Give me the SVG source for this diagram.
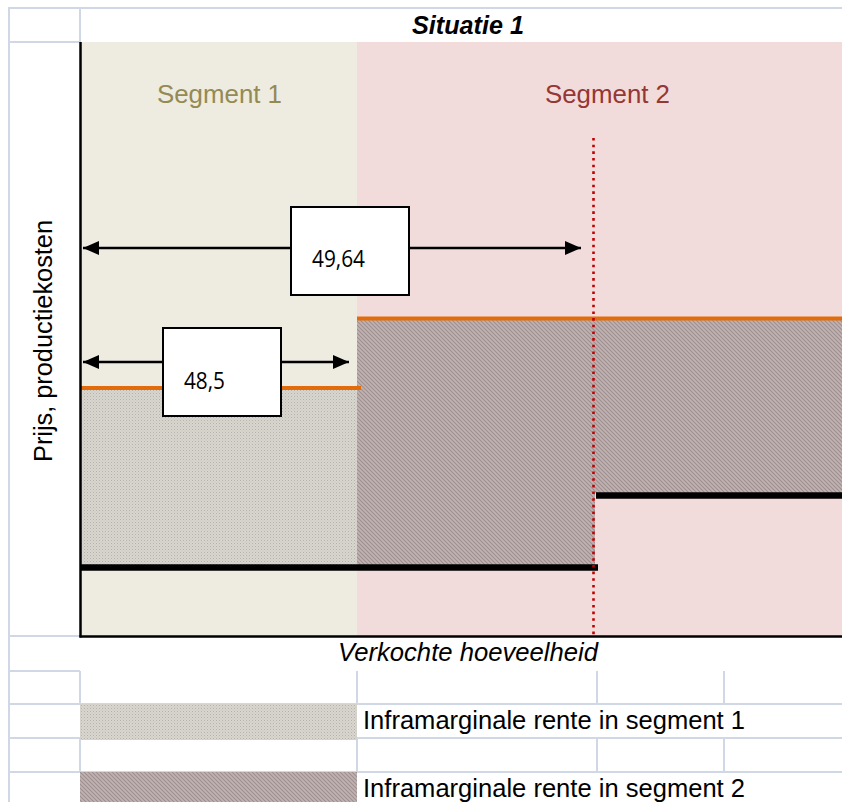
<svg xmlns="http://www.w3.org/2000/svg" width="842" height="802" viewBox="0 0 842 802">
  <style>
    .grid { stroke: #D0D7E5; stroke-width: 2; fill: none; }
    .lbl { font-family: "Liberation Sans", Arial, sans-serif; fill: #000; }
    .num { font-family: "Open Sans", "Noto Sans", sans-serif; font-size: 23px; fill: #000; }
    .box { fill: #fff; stroke: #000; stroke-width: 2; }
    .arrow { stroke: #000; stroke-width: 2.5; fill: none; marker-start: url(#ah); marker-end: url(#ah); }
    .price { stroke: #E36C0A; stroke-width: 4; }
    .cost { stroke: #000; stroke-width: 6.5; }
  </style>
  <defs>
    <pattern id="dots" width="3" height="3" patternUnits="userSpaceOnUse">
      <rect width="3" height="3" fill="#D8D6CE"/>
      <rect x="0" y="0" width="1" height="1" fill="#B4B1A9"/>
      <rect x="1.5" y="1.5" width="1" height="1" fill="#C2BFB8"/>
    </pattern>
    <pattern id="hatch" width="4" height="4" patternUnits="userSpaceOnUse">
      <rect width="4" height="4" fill="#C1B3B3"/>
      <path d="M-1,-1 L5,5 M-1,3 L1,5 M3,-1 L5,1" stroke="#9E8E8E" stroke-width="1.1"/>
    </pattern>
    <marker id="ah" viewBox="0 0 16 14" refX="16" refY="7" markerWidth="16" markerHeight="14" markerUnits="userSpaceOnUse" orient="auto-start-reverse">
      <path d="M0,0 L16,7 L0,14 z" fill="#000"/>
    </marker>
  </defs>

  <rect width="842" height="802" fill="#fff"/>

  <!-- spreadsheet grid -->
  <g id="grid" class="grid">
    <line x1="8" y1="8" x2="842" y2="8"/>
    <line x1="9" y1="7" x2="9" y2="802"/>
    <line x1="80" y1="8" x2="80" y2="42"/>
    <line x1="8" y1="42" x2="80" y2="42"/>
    <line x1="8" y1="636" x2="80" y2="636"/>
    <line x1="8" y1="671" x2="80" y2="671"/>
    <line x1="8" y1="704" x2="842" y2="704"/>
    <line x1="8" y1="738" x2="842" y2="738"/>
    <line x1="8" y1="772" x2="842" y2="772"/>
    <line x1="80" y1="671" x2="80" y2="704"/>
    <line x1="357" y1="671" x2="357" y2="704"/>
    <line x1="597" y1="671" x2="597" y2="704"/>
    <line x1="724" y1="671" x2="724" y2="704"/>
    <line x1="80" y1="738" x2="80" y2="772"/>
    <line x1="357" y1="738" x2="357" y2="772"/>
    <line x1="597" y1="738" x2="597" y2="772"/>
    <line x1="724" y1="738" x2="724" y2="772"/>
  </g>

  <g id="title">
    <text class="lbl" x="468" y="34" font-size="25" font-weight="bold" font-style="italic" text-anchor="middle" textLength="112" lengthAdjust="spacingAndGlyphs">Situatie 1</text>
  </g>

  <!-- chart -->
  <rect x="80" y="42" width="762" height="629" fill="#fff"/>
  <g id="segment1">
    <rect x="81" y="42" width="276" height="594" fill="#EEEBE0"/>
    <text class="lbl" x="219.5" y="103" font-size="26" style="fill:#948A54" text-anchor="middle" textLength="125" lengthAdjust="spacingAndGlyphs">Segment 1</text>
    <rect x="81" y="389" width="276" height="177" fill="url(#dots)"/>
  </g>
  <g id="segment2">
    <rect x="357" y="42" width="485" height="594" fill="#F2DCDB"/>
    <text class="lbl" x="607.5" y="103" font-size="26" style="fill:#953735" text-anchor="middle" textLength="125" lengthAdjust="spacingAndGlyphs">Segment 2</text>
    <rect x="357" y="320" width="238" height="246" fill="url(#hatch)"/>
    <rect x="595" y="320" width="247" height="173" fill="url(#hatch)"/>
  </g>

  <g id="lines">
    <line class="price" x1="80" y1="388" x2="361" y2="388"/>
    <line class="price" x1="357" y1="318.5" x2="842" y2="318.5"/>
    <line class="cost" x1="80" y1="567.5" x2="598" y2="567.5"/>
    <line class="cost" x1="596" y1="495.5" x2="842" y2="495.5"/>
    <line x1="593.5" y1="138" x2="593.5" y2="636" stroke="#C00000" stroke-width="2.6" stroke-dasharray="2.6 4.07"/>
  </g>

  <g id="axes" stroke="#000" stroke-width="2.5">
    <line x1="80.5" y1="42" x2="80.5" y2="637.5"/>
    <line x1="79.5" y1="636.5" x2="842" y2="636.5"/>
  </g>

  <g id="connectors">
    <line class="arrow" x1="83" y1="248" x2="581" y2="248"/>
    <line class="arrow" x1="83" y1="362" x2="349" y2="362"/>
  </g>

  <g id="box-4964">
    <rect class="box" x="291" y="207" width="118" height="88"/>
    <text class="num" x="312" y="267" textLength="53" lengthAdjust="spacingAndGlyphs">49,64</text>
  </g>
  <g id="box-485">
    <rect class="box" x="163" y="328" width="118" height="88"/>
    <text class="num" x="184" y="389" textLength="41" lengthAdjust="spacingAndGlyphs">48,5</text>
  </g>

  <g id="y-axis-label">
    <text class="lbl" transform="translate(52,341) rotate(-90)" font-size="26" text-anchor="middle" textLength="242" lengthAdjust="spacingAndGlyphs">Prijs, productiekosten</text>
  </g>
  <g id="x-axis-label">
    <text class="lbl" x="468" y="661" font-size="26" font-style="italic" text-anchor="middle" textLength="260" lengthAdjust="spacingAndGlyphs">Verkochte hoeveelheid</text>
  </g>

  <g id="legend1">
    <rect x="80" y="704" width="277" height="36" fill="url(#dots)"/>
    <text class="lbl" x="363" y="729" font-size="26" textLength="382" lengthAdjust="spacingAndGlyphs">Inframarginale rente in segment 1</text>
  </g>
  <g id="legend2">
    <rect x="80" y="772" width="277" height="30" fill="url(#hatch)"/>
    <text class="lbl" x="363" y="797" font-size="26" textLength="382" lengthAdjust="spacingAndGlyphs">Inframarginale rente in segment 2</text>
  </g>
</svg>
